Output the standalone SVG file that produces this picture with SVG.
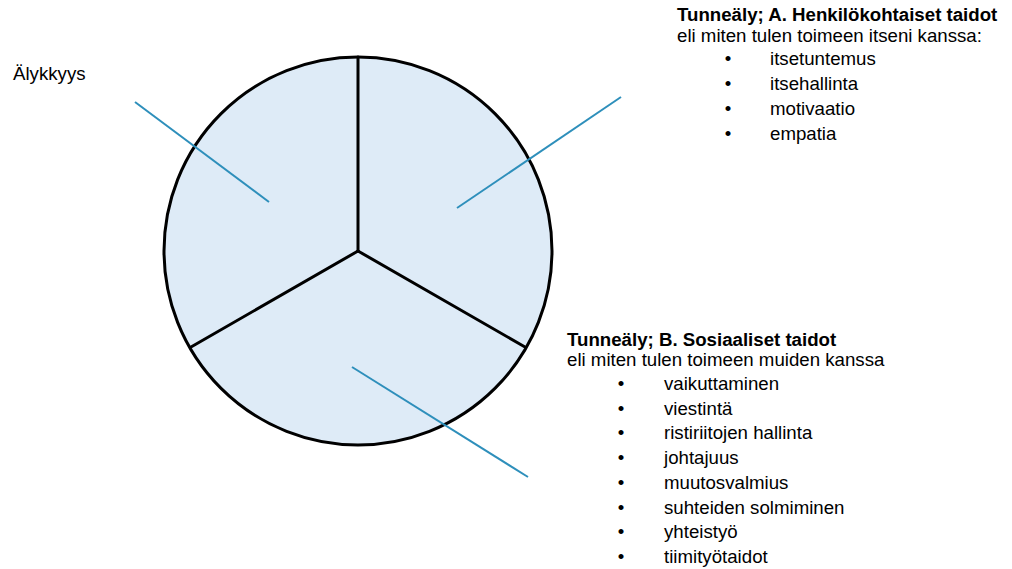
<svg xmlns="http://www.w3.org/2000/svg" width="1012" height="569" viewBox="0 0 1012 569">
<style>
.t{font-family:"Liberation Sans",Arial,sans-serif;font-size:18.67px;fill:#000}
.b{font-weight:bold}
.blk{stroke:#000;stroke-width:3;fill:none;stroke-linecap:round}
.lead{stroke:#2e8fbb;stroke-width:2;fill:none}
</style>
<rect width="1012" height="569" fill="#fff"/>
<g id="pie">
<circle cx="358" cy="251" r="194" fill="#deebf7" stroke="#000" stroke-width="3"/>
<line class="blk" x1="358" y1="57" x2="358" y2="251"/>
<line class="blk" x1="358" y1="251" x2="191" y2="347"/>
<line class="blk" x1="358" y1="251" x2="525" y2="347"/>
</g>
<g id="connectors">
<line class="lead" x1="135" y1="102" x2="269" y2="202"/>
<line class="lead" x1="621" y1="97" x2="457" y2="208"/>
<line class="lead" x1="352" y1="367" x2="528" y2="477"/>
</g>
<g id="label-alykkyys">
<text class="t" x="13" y="80">Älykkyys</text>
</g>
<g id="label-a">
<text class="t b" x="677" y="21">Tunneäly; A. Henkilökohtaiset taidot</text>
<text class="t" x="677" y="42">eli miten tulen toimeen itseni kanssa:</text>
<text class="t" x="728" y="65" text-anchor="middle">•</text>
<text class="t" x="770" y="65">itsetuntemus</text>
<text class="t" x="728" y="90" text-anchor="middle">•</text>
<text class="t" x="770" y="90">itsehallinta</text>
<text class="t" x="728" y="115" text-anchor="middle">•</text>
<text class="t" x="770" y="115">motivaatio</text>
<text class="t" x="728" y="140" text-anchor="middle">•</text>
<text class="t" x="770" y="140">empatia</text>
</g>
<g id="label-b">
<text class="t b" x="567" y="346">Tunneäly; B. Sosiaaliset taidot</text>
<text class="t" x="567" y="366">eli miten tulen toimeen muiden kanssa</text>
<text class="t" x="621" y="390" text-anchor="middle">•</text>
<text class="t" x="664" y="390">vaikuttaminen</text>
<text class="t" x="621" y="414.7" text-anchor="middle">•</text>
<text class="t" x="664" y="414.7">viestintä</text>
<text class="t" x="621" y="439.4" text-anchor="middle">•</text>
<text class="t" x="664" y="439.4">ristiriitojen hallinta</text>
<text class="t" x="621" y="464.1" text-anchor="middle">•</text>
<text class="t" x="664" y="464.1">johtajuus</text>
<text class="t" x="621" y="488.8" text-anchor="middle">•</text>
<text class="t" x="664" y="488.8">muutosvalmius</text>
<text class="t" x="621" y="513.5" text-anchor="middle">•</text>
<text class="t" x="664" y="513.5">suhteiden solmiminen</text>
<text class="t" x="621" y="538.2" text-anchor="middle">•</text>
<text class="t" x="664" y="538.2">yhteistyö</text>
<text class="t" x="621" y="562.9" text-anchor="middle">•</text>
<text class="t" x="664" y="562.9">tiimityötaidot</text>
</g>
</svg>
